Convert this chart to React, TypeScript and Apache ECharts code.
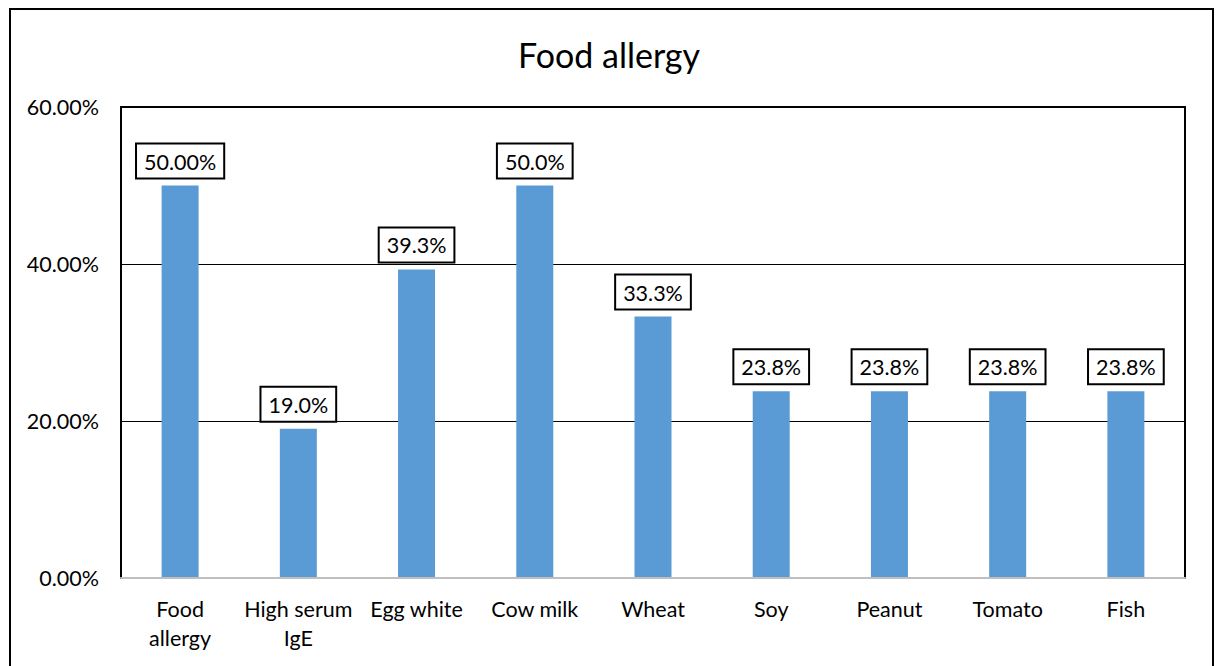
import React, { useEffect, useRef } from "react";
import * as echarts from "echarts";

const categories = ["Food\nallergy", "High serum\nIgE", "Egg white", "Cow milk", "Wheat", "Soy", "Peanut", "Tomato", "Fish"];
const values = [50.0, 19.0, 39.3, 50.0, 33.3, 23.8, 23.8, 23.8, 23.8];
const valueLabels = ["50.00%", "19.0%", "39.3%", "50.0%", "33.3%", "23.8%", "23.8%", "23.8%", "23.8%"];
const yTicks = [0, 20, 40, 60];

const FONT = "Lato";

export default function App() {
  const ref = useRef<HTMLDivElement>(null);
  useEffect(() => {
    if (!ref.current) return;
    const chart = echarts.init(ref.current, null, { renderer: "svg" });
    chart.setOption({
      animation: false,
      backgroundColor: "#ffffff",
      title: {
        text: "Food allergy",
        left: "center",
        top: 32,
        textStyle: { fontFamily: FONT, fontSize: 34, fontWeight: "normal", color: "#000" },
      },
      graphic: [
        {
          type: "rect",
          shape: { x: 10, y: 9, width: 1203, height: 700 },
          style: { fill: "none", stroke: "#000", lineWidth: 2 },
          silent: true,
        },
      ],
      grid: {
        left: 121,
        top: 107,
        width: 1064,
        height: 471,
        show: true,
        borderColor: "#000",
        borderWidth: 2,
        backgroundColor: "transparent",
      },
      xAxis: {
        type: "category",
        data: categories,
        axisLine: { show: true, lineStyle: { color: "#bfbfbf", width: 2 } },
        axisTick: { show: false },
        axisLabel: {
          fontFamily: FONT,
          fontSize: 21.5,
          color: "#000",
          margin: 16,
          lineHeight: 29,
          interval: 0,
        },
        z: 5,
      },
      yAxis: {
        type: "value",
        min: yTicks[0],
        max: yTicks[yTicks.length - 1],
        interval: 20,
        axisLine: { show: false },
        axisTick: { show: false },
        axisLabel: {
          fontFamily: FONT,
          fontSize: 21.5,
          color: "#000",
          margin: 22,
          formatter: (v: number) => v.toFixed(2) + "%",
        },
        splitLine: { show: true, lineStyle: { color: "#000", width: 1 } },
      },
      series: [
        {
          type: "bar",
          data: values,
          barWidth: 37,
          itemStyle: { color: "#5b9bd5" },
          label: {
            show: true,
            position: "top",
            distance: 8,
            fontFamily: FONT,
            fontSize: 21.5,
            color: "#000",
            backgroundColor: "#fff",
            borderColor: "#000",
            borderWidth: 2,
            padding: [6, 7, 5, 7],
            formatter: (p: any) => valueLabels[p.dataIndex],
          },
        },
      ],
    });
    return () => chart.dispose();
  }, []);
  return <div ref={ref} style={{ position: "fixed", left: 0, top: 0, width: 1218, height: 666 }} />;
}
